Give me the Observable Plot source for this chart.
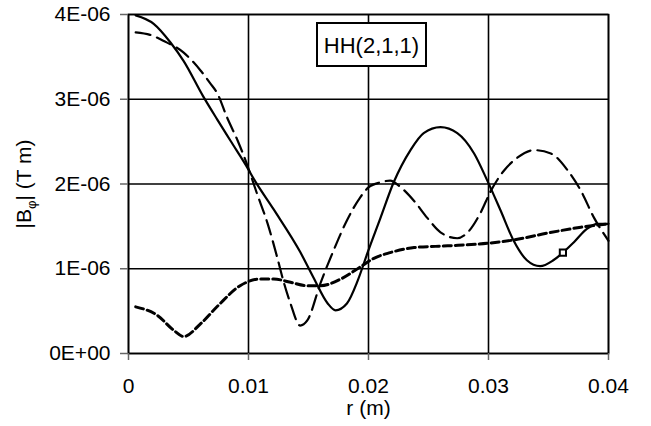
<!DOCTYPE html>
<html>
<head>
<meta charset="utf-8">
<script src="https://cdn.jsdelivr.net/npm/d3@7"></script>
<script src="https://cdn.jsdelivr.net/npm/@observablehq/plot@0.6"></script>
<style>
  html, body { margin: 0; padding: 0; background: white; }
  #chart { position: relative; width: 651px; height: 426px; }
</style>
</head>
<body>
<div id="chart"></div>
<script>
// Values in units of 1E-06 T m
const solidR = [0.0006,0.0021,0.0035,0.0046,0.0062,0.0074,0.0085,0.01,0.0104,0.0121,0.0143,0.0154,0.0166,0.01725,0.0182,0.0191,0.0199,0.021,0.0221,0.0235,0.0246,0.026,0.0274,0.0288,0.0299,0.031,0.0321,0.0332,0.0343,0.0354,0.0362,0.0371,0.0382,0.0391,0.04];
const solidV = [3.99,3.89,3.67,3.45,3.04,2.76,2.51,2.17,2.07,1.7,1.2,0.9,0.59,0.51,0.59,0.86,1.18,1.6,2.02,2.4,2.6,2.67,2.6,2.36,2.04,1.69,1.33,1.1,1.03,1.1,1.19,1.31,1.47,1.53,1.53];

const dashR = [0.0006,0.0018,0.0029,0.0046,0.006,0.0068,0.0074,0.0082,0.0091,0.0098,0.01,0.0107,0.0116,0.0124,0.0129,0.0135,0.0143,0.0149,0.016,0.0171,0.0182,0.0193,0.02,0.021,0.0218,0.0227,0.0238,0.0249,0.026,0.0274,0.0282,0.0293,0.0302,0.0313,0.0324,0.0338,0.0352,0.0366,0.0377,0.0388,0.04];
const dashV = [3.79,3.76,3.69,3.55,3.34,3.19,3.07,2.79,2.51,2.26,2.18,1.89,1.53,1.13,0.86,0.59,0.33,0.39,0.83,1.22,1.57,1.84,1.96,2.02,2.04,1.96,1.8,1.6,1.43,1.36,1.42,1.65,1.92,2.16,2.31,2.4,2.36,2.16,1.92,1.6,1.33];

const dotR = [0.0006,0.0024,0.0038,0.0046,0.006,0.0075,0.0093,0.011,0.0121,0.0135,0.0149,0.016,0.0177,0.0193,0.0204,0.0218,0.0238,0.0266,0.0299,0.0321,0.0349,0.0377,0.04];
const dotV = [0.55,0.45,0.27,0.2,0.35,0.57,0.8,0.88,0.88,0.84,0.8,0.8,0.88,1.02,1.12,1.19,1.25,1.27,1.3,1.34,1.42,1.49,1.53];

const markerR = [0.0362];
const markerV = [1.19];

const xTicks = [0, 0.01, 0.02, 0.03, 0.04];
const xTickLabels = ["0", "0.01", "0.02", "0.03", "0.04"];
const yTicks = [0, 1, 2, 3, 4];
const yTickLabels = ["0E+00", "1E-06", "2E-06", "3E-06", "4E-06"];
const xLabel = "r (m)";
const legendText = "HH(2,1,1)";

const toRows = (R, V) => R.map((r, i) => ({r, v: V[i]}));
const solid = toRows(solidR, solidV);
const dashed = toRows(dashR, dashV);
const dotted = toRows(dotR, dotV);
const marker = toRows(markerR, markerV);

const plot = Plot.plot({
  width: 651,
  height: 426,
  marginLeft: 128,
  marginRight: 43,
  marginTop: 14,
  marginBottom: 73,
  style: {fontFamily: "'Liberation Sans', Arial, sans-serif", fontSize: "21px", background: "white", color: "black"},
  x: {domain: [0, 0.04]},
  y: {domain: [0, 4]},
  marks: [
    Plot.ruleX(xTicks, {stroke: "black", strokeWidth: 1.6}),
    Plot.ruleY(yTicks, {stroke: "black", strokeWidth: 1.6}),
    Plot.frame({stroke: "black", strokeWidth: 1.6}),
    Plot.axisX({ticks: xTicks, tickSize: 7, tickPadding: 18, stroke: "#666", strokeWidth: 1.5,
      tickFormat: d => xTickLabels[xTicks.indexOf(d)], label: null, fontSize: 21}),
    Plot.axisY({ticks: yTicks, tickSize: 8, tickPadding: 10, stroke: "#666", strokeWidth: 1.5,
      tickFormat: d => yTickLabels[yTicks.indexOf(d)], label: null, fontSize: 21}),
    Plot.line(dotted, {x: "r", y: "v", stroke: "black", strokeWidth: 3, strokeDasharray: "8,4", curve: "monotone-x"}),
    Plot.line(dashed, {x: "r", y: "v", stroke: "black", strokeWidth: 2.2, strokeDasharray: "15,7", curve: "monotone-x"}),
    Plot.line(solid, {x: "r", y: "v", stroke: "black", strokeWidth: 2.2, curve: "monotone-x"}),
    Plot.dot(marker, {x: "r", y: "v", symbol: "square", r: 3.5, fill: "white", stroke: "black", strokeWidth: 2}),
    Plot.text([xLabel], {frameAnchor: "bottom", dy: 61, fontSize: 21, fill: "black"})
  ]
});

document.getElementById("chart").appendChild(plot);

// Y-axis label with subscript phi
const svg = d3.select(plot);
const yl = svg.append("text")
  .attr("transform", "translate(31,184) rotate(-90)")
  .attr("text-anchor", "middle")
  .attr("font-family", "'Liberation Sans', Arial, sans-serif")
  .attr("font-size", 21)
  .attr("fill", "black");
yl.append("tspan").text("|B");
yl.append("tspan").attr("font-size", 13).attr("dy", 5).text("φ");
yl.append("tspan").attr("dy", -5).text("| (T m)");

// Legend box
const g = svg.append("g");
g.append("rect").attr("x", 317).attr("y", 23).attr("width", 109).attr("height", 43)
  .attr("fill", "white").attr("stroke", "black").attr("stroke-width", 2);
g.append("text").attr("x", 371.5).attr("y", 52.5).attr("text-anchor", "middle")
  .attr("font-family", "'Liberation Sans', Arial, sans-serif").attr("font-size", 22)
  .attr("fill", "black").text(legendText);
</script>
</body>
</html>
